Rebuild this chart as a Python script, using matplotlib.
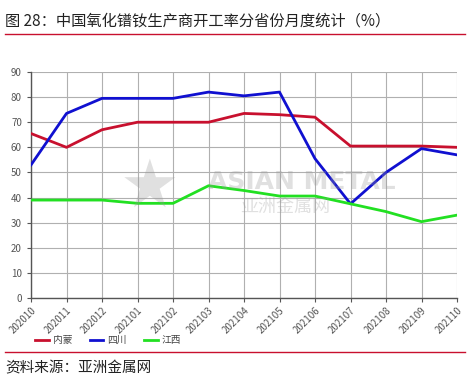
import matplotlib
matplotlib.use("Agg")
import matplotlib.pyplot as plt
from matplotlib.lines import Line2D

plt.rcParams['font.family'] = ['Noto Sans CJK SC', 'DejaVu Sans']

months = ["202010", "202011", "202012", "202101", "202102", "202103", "202104",
          "202105", "202106", "202107", "202108", "202109", "202110"]
neimeng = [65.5, 60, 67, 70, 70, 70, 73.5, 73, 72, 60.5, 60.5, 60.5, 60]
sichuan = [53, 73.5, 79.5, 79.5, 79.5, 82, 80.5, 82, 55.5, 37.5, 50, 59.5, 57]
jiangxi = [39, 39, 39, 37.7, 37.7, 44.7, 42.8, 40.6, 40.6, 37.5, 34.4, 30.4, 33]
series_names = ["内蒙", "四川", "江西"]
colors = ["#c8102e", "#1010d0", "#22e022"]
yticks = [0, 10, 20, 30, 40, 50, 60, 70, 80, 90]

W, H = 474, 384
fig = plt.figure(figsize=(W / 100, H / 100), dpi=100)
ax = fig.add_axes([31 / W, (H - 298) / H, 426 / W, (298 - 72) / H])

x = list(range(len(months)))
for vals, c, n in zip([neimeng, sichuan, jiangxi], colors, series_names):
    ax.plot(x, vals, color=c, lw=2.0, label=n, zorder=3)

ax.set_xlim(0, len(months) - 1)
ax.set_ylim(0, 90)
ax.set_yticks(yticks)
ax.set_xticks(x)
ax.set_xticklabels(months, rotation=45, ha='right', va='top', rotation_mode='anchor')
ax.tick_params(axis='both', labelsize=7, colors='#555555', length=3, width=0.8)
ax.tick_params(axis='x', pad=2)
ax.grid(True, color='#b0b0b0', lw=0.8)
for s in ['top', 'right']:
    ax.spines[s].set_visible(False)
for s in ['left', 'bottom']:
    ax.spines[s].set_color('#555555')
    ax.spines[s].set_linewidth(1.0)

# watermark
fig.text(208 / W, 1 - 182 / H, "ASIAN METAL", fontsize=18, color='#999999', alpha=0.3,
         ha='left', va='center', fontweight='bold', family='DejaVu Sans')
fig.text(240 / W, 1 - 198 / H, "亚洲金属网", fontsize=13, color='#999999', alpha=0.3,
         ha='left', va='top')
fig.text(150 / W, 1 - 188 / H, "★", fontsize=48, color='#999999', alpha=0.3,
         ha='center', va='center', family='DejaVu Sans')

# legend
handles = [Line2D([0], [0], color=c, lw=2) for c in colors]
fig.legend(handles, series_names, loc='center', bbox_to_anchor=(108 / W, 1 - 340 / H),
           ncol=3, frameon=False, fontsize=7, handlelength=1.4, columnspacing=1.8,
           handletextpad=0.4, labelcolor='#444444')

# title and footer
fig.text(5 / W, 1 - 21 / H, "图 28：中国氧化镨钕生产商开工率分省份月度统计（%）",
         fontsize=11, color='#222222', ha='left', va='center')
fig.add_artist(Line2D([5 / W, 465 / W], [1 - 34 / H, 1 - 34 / H], color='#c8102e', lw=1))
fig.add_artist(Line2D([5 / W, 465 / W], [1 - 352 / H, 1 - 352 / H], color='#c8102e', lw=1))
fig.text(5 / W, 1 - 368 / H, "资料来源：亚洲金属网", fontsize=10.5, color='#222222',
         ha='left', va='center')

fig.savefig("out.png", dpi=100)
